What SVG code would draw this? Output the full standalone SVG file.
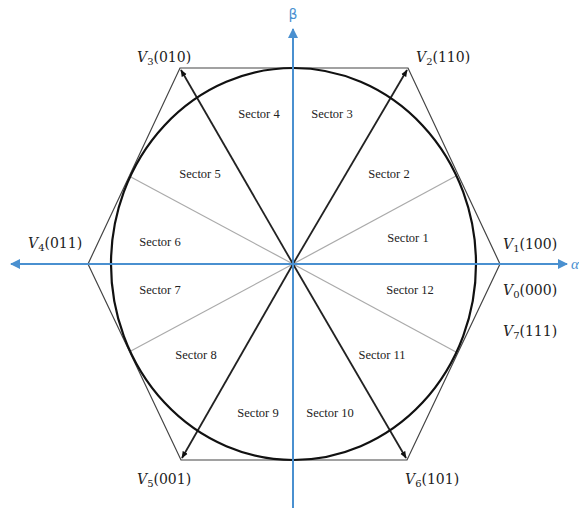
<svg xmlns="http://www.w3.org/2000/svg" width="579" height="508" viewBox="0 0 579 508">
<defs>
<marker id="ab" viewBox="0 0 10 10" refX="9" refY="5" markerWidth="5" markerHeight="5" orient="auto"><path d="M0,0 L10,5 L0,10 z" fill="#4a90d0"/></marker>
<marker id="ak" viewBox="0 0 10 10" refX="9" refY="5" markerWidth="4" markerHeight="4" orient="auto"><path d="M0,1 L10,5 L0,9 z" fill="#111"/></marker>
</defs>
<style>
.sec{font-family:"Liberation Serif",serif;font-size:12.5px;fill:#222;text-anchor:middle}
.vl{font-family:"DejaVu Serif","Liberation Serif",serif;font-size:14px;fill:#222}
.vi{font-style:italic}
.sub{font-size:10px}
.ax{stroke:#4a90d0;stroke-width:2;fill:none}
.gr{stroke:#aaa;stroke-width:1.2}
.vec{stroke:#222;stroke-width:1.8;marker-end:url(#ak)}
</style>
<rect width="579" height="508" fill="#fff"/>
<g id="connectors">
<polygon id="hexagon" points="500,264 408,68 180,68 88,264 181,460 407,460" fill="none" stroke="#444" stroke-width="1.2"/>
<line class="gr" x1="293" y1="264" x2="456" y2="176"/>
<line class="gr" x1="293" y1="264" x2="129" y2="176"/>
<line class="gr" x1="293" y1="264" x2="129" y2="352"/>
<line class="gr" x1="293" y1="264" x2="456" y2="352"/>
<line class="vec" x1="293" y1="264" x2="407" y2="70"/>
<line class="vec" x1="293" y1="264" x2="181" y2="70"/>
<line class="vec" x1="293" y1="264" x2="182" y2="458"/>
<line class="vec" x1="293" y1="264" x2="406" y2="458"/>
</g>
<g id="circle"><ellipse cx="293.5" cy="264" rx="182.5" ry="196" fill="none" stroke="#111" stroke-width="2.2"/></g>
<g id="axes">
<line class="ax" x1="293" y1="264" x2="11" y2="264" marker-end="url(#ab)"/>
<line class="ax" x1="293" y1="264" x2="567" y2="264" marker-end="url(#ab)"/>
<line class="ax" x1="293" y1="508" x2="293" y2="29" marker-end="url(#ab)"/>
</g>
<g id="axis-labels">
<text x="293" y="19" font-family="DejaVu Sans,sans-serif" font-size="14" fill="#4a90d0" text-anchor="middle">β</text>
<text x="571" y="269" font-family="Liberation Serif,serif" font-style="italic" font-size="15" fill="#4a90d0">α</text>
</g>
<g id="sectors">
<text class="sec" x="259" y="118">Sector 4</text>
<text class="sec" x="332" y="118">Sector 3</text>
<text class="sec" x="200" y="178">Sector 5</text>
<text class="sec" x="389" y="178">Sector 2</text>
<text class="sec" x="160" y="246">Sector 6</text>
<text class="sec" x="408" y="242">Sector 1</text>
<text class="sec" x="160" y="294">Sector 7</text>
<text class="sec" x="410" y="294">Sector 12</text>
<text class="sec" x="196" y="359">Sector 8</text>
<text class="sec" x="382" y="359">Sector 11</text>
<text class="sec" x="258" y="417">Sector 9</text>
<text class="sec" x="330" y="417">Sector 10</text>
</g>
<g id="v1"><text class="vl" x="503" y="249"><tspan class="vi">V</tspan><tspan class="sub" dy="3">1</tspan><tspan dy="-3">(100)</tspan></text></g>
<g id="v2"><text class="vl" x="416" y="62"><tspan class="vi">V</tspan><tspan class="sub" dy="3">2</tspan><tspan dy="-3">(110)</tspan></text></g>
<g id="v3"><text class="vl" x="137" y="62"><tspan class="vi">V</tspan><tspan class="sub" dy="3">3</tspan><tspan dy="-3">(010)</tspan></text></g>
<g id="v4"><text class="vl" x="28" y="248"><tspan class="vi">V</tspan><tspan class="sub" dy="3">4</tspan><tspan dy="-3">(011)</tspan></text></g>
<g id="v5"><text class="vl" x="137" y="484"><tspan class="vi">V</tspan><tspan class="sub" dy="3">5</tspan><tspan dy="-3">(001)</tspan></text></g>
<g id="v6"><text class="vl" x="405" y="484"><tspan class="vi">V</tspan><tspan class="sub" dy="3">6</tspan><tspan dy="-3">(101)</tspan></text></g>
<g id="v0"><text class="vl" x="503" y="295"><tspan class="vi">V</tspan><tspan class="sub" dy="3">0</tspan><tspan dy="-3">(000)</tspan></text></g>
<g id="v7"><text class="vl" x="503" y="336"><tspan class="vi">V</tspan><tspan class="sub" dy="3">7</tspan><tspan dy="-3">(111)</tspan></text></g>
</svg>
